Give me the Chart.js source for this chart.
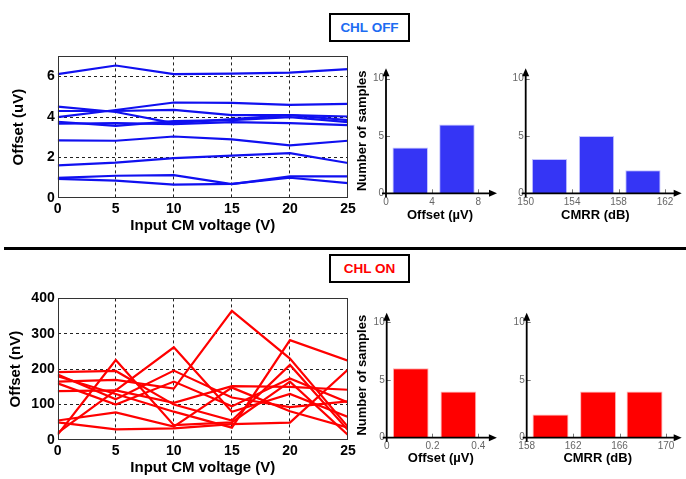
<!DOCTYPE html>
<html>
<head>
<meta charset="utf-8">
<script src="https://cdn.jsdelivr.net/npm/chart.js@4.4.1/dist/chart.umd.min.js"></script>
<style>
  html, body { margin: 0; padding: 0; background: #fff; }
  #page { position: relative; width: 686px; height: 479px; overflow: hidden; background: #fff; }
  #page canvas { position: absolute; }
  .tag { position: absolute; left: 329px; width: 77px; height: 25px; border: 2px solid #000;
         font: bold 13.5px 'Liberation Sans', Arial, sans-serif; text-align: center; line-height: 25px; }
  .sep { position: absolute; left: 4px; top: 247px; width: 682px; height: 3px; background: #000; }
</style>
</head>
<body>
<div id="page">
  <div class="tag" style="top:13px;color:#1d6cf2">CHL OFF</div>
  <div class="sep"></div>
  <div class="tag" style="top:254px;color:#ff0000">CHL ON</div>

  <canvas id="offLine" width="362" height="192" style="left:0;top:45px"></canvas>
  <canvas id="offHistOffset" width="160" height="175" style="left:350px;top:60px"></canvas>
  <canvas id="offHistCmrr" width="176" height="175" style="left:510px;top:60px"></canvas>

  <canvas id="onLine" width="362" height="192" style="left:0;top:287px"></canvas>
  <canvas id="onHistOffset" width="160" height="179" style="left:350px;top:300px"></canvas>
  <canvas id="onHistCmrr" width="176" height="179" style="left:510px;top:300px"></canvas>
</div>
<script>
// --- datos ---
const cmVoltage = [0, 5, 10, 15, 20, 25];

// CHL OFF: offset (uV) de cada muestra vs tension de modo comun
const offSample1 = [6.12, 6.55, 6.12, 6.15, 6.2, 6.37];
const offSample2 = [4.0, 4.35, 4.72, 4.7, 4.6, 4.65];
const offSample3 = [4.3, 4.3, 4.36, 4.1, 4.1, 4.03];
const offSample4 = [4.52, 4.25, 3.7, 3.9, 4.1, 3.85];
const offSample5 = [3.77, 3.57, 3.8, 3.85, 4.0, 3.75];
const offSample6 = [3.67, 3.7, 3.65, 3.75, 3.7, 3.6];
const offSample7 = [2.85, 2.83, 3.04, 2.9, 2.6, 2.83];
const offSample8 = [1.61, 1.75, 1.97, 2.09, 2.22, 1.73];
const offSample9 = [0.99, 1.1, 1.13, 0.69, 1.07, 1.07];
const offSample10 = [0.95, 0.86, 0.66, 0.7, 1.0, 0.74];

// CHL ON: offset (nV)
const onSample1 = [15, 226, 42, 50, 165, 14];
const onSample2 = [20, 140, 262, 80, 130, 65];
const onSample3 = [192, 195, 100, 55, 212, 28];
const onSample4 = [185, 115, 196, 120, 93, 109];
const onSample5 = [180, 130, 80, 35, 282, 224];
const onSample6 = [165, 170, 145, 365, 230, 37];
const onSample7 = [160, 100, 165, 95, 174, 106];
const onSample8 = [138, 140, 105, 152, 150, 142];
const onSample9 = [55, 78, 38, 148, 81, 35];
const onSample10 = [50, 30, 33, 45, 49, 199];

// histogramas: centro de cada barra y cantidad de muestras
const offOffsetBins = [2.1, 6.15];
const offOffsetCounts = [4, 6];
const offCmrrBins = [152.05, 156.1, 160.1];
const offCmrrCounts = [3, 5, 2];
const onOffsetBins = [0.105, 0.313];
const onOffsetCounts = [6, 4];
const onCmrrBins = [160.05, 164.15, 168.15];
const onCmrrCounts = [2, 4, 4];

// etiquetas de los ejes de los histogramas
const countTicks = [0, 5, 10];
const offOffsetTicks = [0, 4, 8];
const offCmrrTicks = [150, 154, 158, 162];
const onOffsetTicks = [0, 0.2, 0.4];
const onCmrrTicks = [158, 162, 166, 170];

const SANS = "'Liberation Sans', Arial, sans-serif";

// marco alrededor del area de trazado
const framePlugin = {
  id: 'frame',
  afterDraw(chart) {
    const { ctx, chartArea: a } = chart;
    ctx.save();
    ctx.strokeStyle = '#333';
    ctx.lineWidth = 1;
    ctx.strokeRect(Math.round(a.left) + 0.5, Math.round(a.top) + 0.5,
                   Math.round(a.right - a.left) - 1, Math.round(a.bottom - a.top) - 1);
    ctx.restore();
  }
};

// ejes con flecha y marcas hacia adentro (histogramas)
const arrowAxes = {
  id: 'arrowAxes',
  afterDraw(chart, args, opts) {
    const { ctx, chartArea: a, scales: { x, y } } = chart;
    const x0 = a.left, y0 = a.bottom;
    const tipX = a.right + (opts.extraX || 0), tipY = a.top;
    ctx.save();
    ctx.strokeStyle = '#777';
    ctx.lineWidth = 1;
    y.ticks.forEach(t => {
      if (t.value === 0) return;
      const py = Math.round(y.getPixelForValue(t.value)) + 0.5;
      ctx.beginPath(); ctx.moveTo(x0, py); ctx.lineTo(x0 + 4, py); ctx.stroke();
    });
    x.ticks.forEach(t => {
      const px = Math.round(x.getPixelForValue(t.value)) + 0.5;
      if (Math.abs(px - x0) < 2) return;
      ctx.beginPath(); ctx.moveTo(px, y0); ctx.lineTo(px, y0 - 4); ctx.stroke();
    });
    ctx.strokeStyle = '#000';
    ctx.fillStyle = '#000';
    ctx.lineWidth = 1.8;
    ctx.beginPath();
    ctx.moveTo(x0, y0 + 4); ctx.lineTo(x0, tipY + 5);
    ctx.moveTo(x0 - 4, y0); ctx.lineTo(tipX - 5, y0);
    ctx.stroke();
    ctx.beginPath();
    ctx.moveTo(x0, tipY); ctx.lineTo(x0 - 3.5, tipY + 8); ctx.lineTo(x0 + 3.5, tipY + 8);
    ctx.closePath(); ctx.fill();
    ctx.beginPath();
    ctx.moveTo(tipX, y0); ctx.lineTo(tipX - 8, y0 - 3.5); ctx.lineTo(tipX - 8, y0 + 3.5);
    ctx.closePath(); ctx.fill();
    ctx.restore();
  }
};

function makeLineChart(id, samples, color, yMax, yStep, yTitle, titleLeftPad) {
  const edgeHidden = (c, max) =>
    (c.tick && (c.tick.value === 0 || c.tick.value === max)) ? 'rgba(0,0,0,0)' : '#222';
  return new Chart(document.getElementById(id), {
    type: 'line',
    data: {
      datasets: samples.map(s => ({
        data: cmVoltage.map((v, i) => ({ x: v, y: s[i] })),
        borderColor: color, borderWidth: 2.2, pointRadius: 0, tension: 0, fill: false
      }))
    },
    options: {
      responsive: false, animation: false, events: [],
      layout: { padding: { top: 11, right: 14, left: 0, bottom: 0 } },
      plugins: { legend: { display: false }, tooltip: { enabled: false } },
      scales: {
        x: {
          type: 'linear', min: 0, max: 25,
          ticks: { stepSize: 5, padding: 3, color: '#000', font: { family: SANS, size: 14, weight: 'bold' } },
          grid: { color: c => edgeHidden(c, 25), lineWidth: 1, drawTicks: false },
          border: { display: false, dash: [3, 3] },
          title: { display: true, text: 'Input CM voltage (V)', color: '#000',
                   font: { family: SANS, size: 15, weight: 'bold' }, padding: { top: 0, bottom: 2 } },
          afterFit: s => { s.height = 39; }
        },
        y: {
          min: 0, max: yMax,
          ticks: { stepSize: yStep, includeBounds: false, padding: 3, color: '#000',
                   font: { family: SANS, size: 14, weight: 'bold' } },
          grid: { color: c => edgeHidden(c, yMax), lineWidth: 1, drawTicks: false },
          border: { display: false, dash: [3, 3] },
          title: { display: true, text: yTitle, color: '#000',
                   font: { family: SANS, size: 15, weight: 'bold' }, padding: { top: titleLeftPad, bottom: 0 } },
          afterFit: s => { s.width = 57.7; }
        }
      }
    },
    plugins: [framePlugin]
  });
}

function makeHist(cfg) {
  const canvas = document.getElementById(cfg.id);
  return new Chart(canvas, {
    type: 'bar',
    data: {
      datasets: [{
        data: cfg.bins.map((b, i) => ({ x: b, y: cfg.counts[i] })),
        backgroundColor: cfg.color, borderColor: cfg.edge, borderWidth: 1,
        categoryPercentage: 1, barPercentage: cfg.barPct
      }]
    },
    options: {
      responsive: false, animation: false, events: [],
      layout: { padding: { top: cfg.areaTop, right: canvas.width - cfg.areaRight, left: 0, bottom: 0 } },
      plugins: { legend: { display: false }, tooltip: { enabled: false }, arrowAxes: { extraX: cfg.extraX } },
      scales: {
        x: {
          type: 'linear', min: cfg.xMin, max: cfg.xMax, offset: false,
          afterBuildTicks: s => { s.ticks = cfg.xTicks.map(v => ({ value: v })); },
          ticks: { padding: 3, color: '#666', font: { family: SANS, size: 10 } },
          grid: { display: false, drawTicks: false },
          border: { display: false },
          title: { display: true, text: cfg.xTitle, color: '#000',
                   font: { family: SANS, size: 13, weight: 'bold' }, padding: { top: 0, bottom: cfg.titleBottom } },
          afterFit: s => { s.height = canvas.height - cfg.areaBottom; }
        },
        y: {
          min: 0, max: cfg.yMax,
          afterBuildTicks: s => { s.ticks = countTicks.map(v => ({ value: v })); },
          ticks: { padding: 2, color: '#666', font: { family: SANS, size: 10 } },
          grid: { display: false, drawTicks: false },
          border: { display: false },
          title: { display: !!cfg.yTitle, text: cfg.yTitle || '', color: '#000',
                   font: { family: SANS, size: 13, weight: 'bold' }, padding: { top: 5, bottom: 0 } },
          afterFit: s => { s.width = cfg.areaLeft; }
        }
      }
    },
    plugins: [arrowAxes]
  });
}

makeLineChart('offLine',
  [offSample1, offSample2, offSample3, offSample4, offSample5, offSample6, offSample7, offSample8, offSample9, offSample10],
  'rgb(16,16,240)', 7, 2, 'Offset (uV)', 10);

makeLineChart('onLine',
  [onSample1, onSample2, onSample3, onSample4, onSample5, onSample6, onSample7, onSample8, onSample9, onSample10],
  'rgb(255,0,0)', 400, 100, 'Offset (nV)', 7);

makeHist({ id: 'offHistOffset', bins: offOffsetBins, counts: offOffsetCounts, xTicks: offOffsetTicks,
  color: '#3535f5', edge: '#c4c4ff', barPct: 0.77,
  xMin: 0, xMax: 9.36, yMax: 10.9,
  xTitle: 'Offset (\u00b5V)', yTitle: 'Number of samples',
  areaLeft: 36, areaTop: 8.3, areaRight: 144, areaBottom: 133.3, extraX: 3, titleBottom: 12 });

makeHist({ id: 'offHistCmrr', bins: offCmrrBins, counts: offCmrrCounts, xTicks: offCmrrTicks,
  color: '#3535f5', edge: '#c4c4ff', barPct: 0.76,
  xMin: 150, xMax: 162, yMax: 10.9,
  xTitle: 'CMRR (dB)',
  areaLeft: 15.7, areaTop: 8.3, areaRight: 155, areaBottom: 133.3, extraX: 16.7, titleBottom: 12 });

makeHist({ id: 'onHistOffset', bins: onOffsetBins, counts: onOffsetCounts, xTicks: onOffsetTicks,
  color: '#ff0000', edge: '#ffb4b4', barPct: 0.78,
  xMin: 0, xMax: 0.4725, yMax: 10.8,
  xTitle: 'Offset (\u00b5V)', yTitle: 'Number of samples',
  areaLeft: 36.7, areaTop: 12.7, areaRight: 144.9, areaBottom: 137.7, extraX: 2, titleBottom: 12.7 });

makeHist({ id: 'onHistCmrr', bins: onCmrrBins, counts: onCmrrCounts, xTicks: onCmrrTicks,
  color: '#ff0000', edge: '#ffb4b4', barPct: 0.775,
  xMin: 158, xMax: 170.23, yMax: 10.8,
  xTitle: 'CMRR (dB)',
  areaLeft: 16.7, areaTop: 12.7, areaRight: 158.7, areaBottom: 137.7, extraX: 13, titleBottom: 12.7 });
</script>
</body>
</html>
